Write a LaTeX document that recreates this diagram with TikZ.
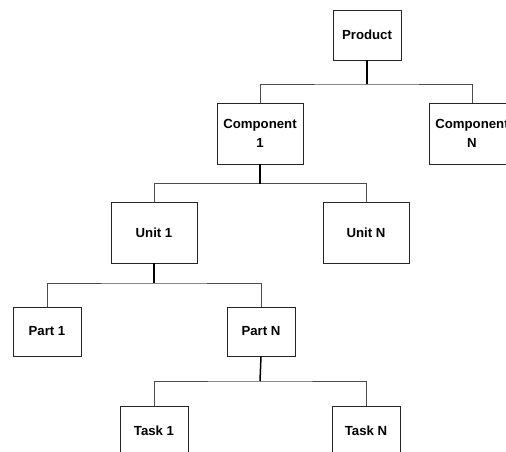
\documentclass[tikz,border=0pt]{standalone}
\usepackage{fontspec}
\setmainfont{Liberation Sans}
\usetikzlibrary{positioning}

\tikzset{
  item/.style={draw=black!85, line width=0.9pt, fill=white, align=center,
    inner sep=0pt, font=\fontsize{13.2}{19}\selectfont\bfseries},
  wide/.style={item, minimum width=86pt, minimum height=61pt},
  small/.style={item, minimum width=68pt, minimum height=49pt},
  stem/.style={line width=1.5pt, black},
  branch/.style={line width=1pt, black!70}
}

\begin{document}
\begin{tikzpicture}[x=1pt, y=-1pt]
  \useasboundingbox (0,0) rectangle (506,452);
  \clip (0,0) rectangle (506,452);
  % levels of the tree
  \node[small, minimum height=50pt] (prod) at (367,35) {Product};
  \node[wide] (comp1) at (260,133.5) {Component\\1};
  \node[wide] (compN) at (472,133.5) {Component\\N};
  \node[wide] (unit1) at (154,232.5) {Unit 1};
  \node[wide] (unitN) at (366,232.5) {Unit N};
  \node[small] (part1) at (47,331.5) {Part 1};
  \node[small] (partN) at (261,331.5) {Part N};
  \node[small] (task1) at (154,430.5) {Task 1};
  \node[small] (taskN) at (366,430.5) {Task N};
  % junctions
  \coordinate (j1) at (367,84);
  \coordinate (j2) at (260,183.5);
  \coordinate (j3) at (154,283);
  \coordinate (j4) at (260,381);
  % connectors
  \draw[branch] (comp1.north) |- (j1) -| (compN.north);
  \draw[stem] (prod.south) -- (j1);
  \draw[branch] (unit1.north) |- (j2) -| (unitN.north);
  \draw[stem] (comp1.south) -- (j2);
  \draw[branch] (part1.north) |- (j3) -| (partN.north);
  \draw[stem] (unit1.south) -- (j3);
  \draw[branch] (task1.north) |- (j4) -| (taskN.north);
  \draw[stem] (partN.south) -- (j4);
\end{tikzpicture}
\end{document}
